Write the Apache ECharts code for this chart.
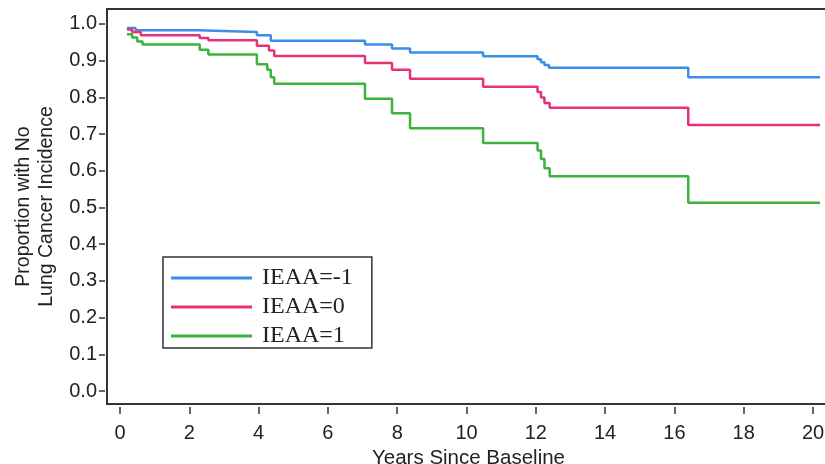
<!DOCTYPE html>
<html>
<head>
<meta charset="utf-8">
<script src="https://cdn.jsdelivr.net/npm/echarts@6/dist/echarts.min.js"></script>
<style>
  html, body { margin: 0; padding: 0; background: #fff; }
  #chart { width: 825px; height: 464px; }
</style>
</head>
<body>
<div id="chart"></div>
<script>
// Kaplan-Meier estimates: [years, proportion]
var ieaaMinus1 = [[0.2,0.989],[0.45,0.983],[2.25,0.978],[3.95,0.969],[4.35,0.954],[7.07,0.944],[7.85,0.933],[8.37,0.922],[10.48,0.912],[12.05,0.904],[12.15,0.896],[12.25,0.888],[12.38,0.881],[16.4,0.855],[20.2,0.855]];
var ieaa0 = [[0.2,0.985],[0.35,0.978],[0.6,0.969],[2.3,0.962],[2.55,0.956],[3.95,0.941],[4.3,0.928],[4.45,0.913],[7.07,0.894],[7.85,0.875],[8.37,0.851],[10.48,0.829],[12.05,0.815],[12.15,0.8],[12.25,0.785],[12.4,0.772],[16.4,0.725],[20.2,0.725]];
var ieaa1 = [[0.2,0.972],[0.35,0.963],[0.5,0.952],[0.65,0.944],[2.3,0.93],[2.55,0.917],[3.95,0.89],[4.25,0.875],[4.35,0.855],[4.45,0.837],[7.07,0.796],[7.85,0.757],[8.37,0.716],[10.48,0.676],[12.05,0.655],[12.15,0.632],[12.25,0.607],[12.4,0.585],[16.4,0.513],[20.2,0.513]];

var seriesNames = ['IEAA=-1', 'IEAA=0', 'IEAA=1'];
var xTicks = [0, 2, 4, 6, 8, 10, 12, 14, 16, 18, 20];
var yTicks = [0, 0.1, 0.2, 0.3, 0.4, 0.5, 0.6, 0.7, 0.8, 0.9, 1.0];

var colors = ['#3a8ee6', '#e8307a', '#3cb43c'];
var sansFont = '"Liberation Sans", Arial, sans-serif';

var myChart = echarts.init(document.getElementById('chart'));

function kmSeries(name, data, color) {
	return {
		name: name,
		type: 'line',
		step: 'end',
		showSymbol: false,
		data: data,
		lineStyle: { color: color, width: 2.5 },
		itemStyle: { color: color },
		z: 3
	};
}

var option = {
	animation: false,
	backgroundColor: '#fff',
	grid: {
		left: 107,
		top: 9,
		right: -5,
		bottom: 60,
		outerBoundsMode: 'none',
		containLabel: false,
		show: true,
		borderColor: '#333',
		borderWidth: 2
	},
	legend: {
		orient: 'vertical',
		left: 163,
		top: 257,
		data: seriesNames,
		icon: 'rect',
		itemWidth: 81,
		itemHeight: 3,
		itemGap: 5,
		padding: [9, 19, 0, 8],
		borderColor: '#333',
		borderWidth: 1.5,
		backgroundColor: '#fff',
		textStyle: {
			fontFamily: '"Liberation Serif", "DejaVu Serif", serif',
			fontSize: 24,
			lineHeight: 24,
			color: '#222',
			padding: [0, 0, 0, 5]
		}
	},
	xAxis: {
		type: 'value',
		min: -0.375,
		max: 20.49,
		offset: 3,
		splitLine: { show: false },
		axisLine: { show: false, onZero: false },
		axisTick: {
			show: true,
			inside: false,
			length: 7,
			customValues: xTicks,
			lineStyle: { color: '#333', width: 1.5 }
		},
		axisLabel: {
			customValues: xTicks,
			margin: 16,
			fontFamily: sansFont,
			fontSize: 20,
			color: '#222'
		},
		name: 'Years Since Baseline',
		nameLocation: 'middle',
		nameGap: 38,
		nameTextStyle: { fontFamily: sansFont, fontSize: 20.5, color: '#222' }
	},
	yAxis: {
		type: 'value',
		min: -0.0353,
		max: 1.0408,
		offset: 2,
		splitLine: { show: false },
		axisLine: { show: false, onZero: false },
		axisTick: {
			show: true,
			inside: false,
			length: 6,
			customValues: yTicks,
			lineStyle: { color: '#333', width: 1.5 }
		},
		axisLabel: {
			customValues: yTicks,
			margin: 8,
			fontFamily: sansFont,
			fontSize: 20,
			color: '#222',
			formatter: function (v) { return v.toFixed(1); }
		},
		name: 'Proportion with No\nLung Cancer Incidence',
		nameLocation: 'middle',
		nameGap: 47,
		nameTextStyle: { fontFamily: sansFont, fontSize: 19.5, lineHeight: 23, color: '#222' }
	},
	series: [
		kmSeries(seriesNames[0], ieaaMinus1, colors[0]),
		kmSeries(seriesNames[1], ieaa0, colors[1]),
		kmSeries(seriesNames[2], ieaa1, colors[2])
	]
};

myChart.setOption(option);
</script>
</body>
</html>
